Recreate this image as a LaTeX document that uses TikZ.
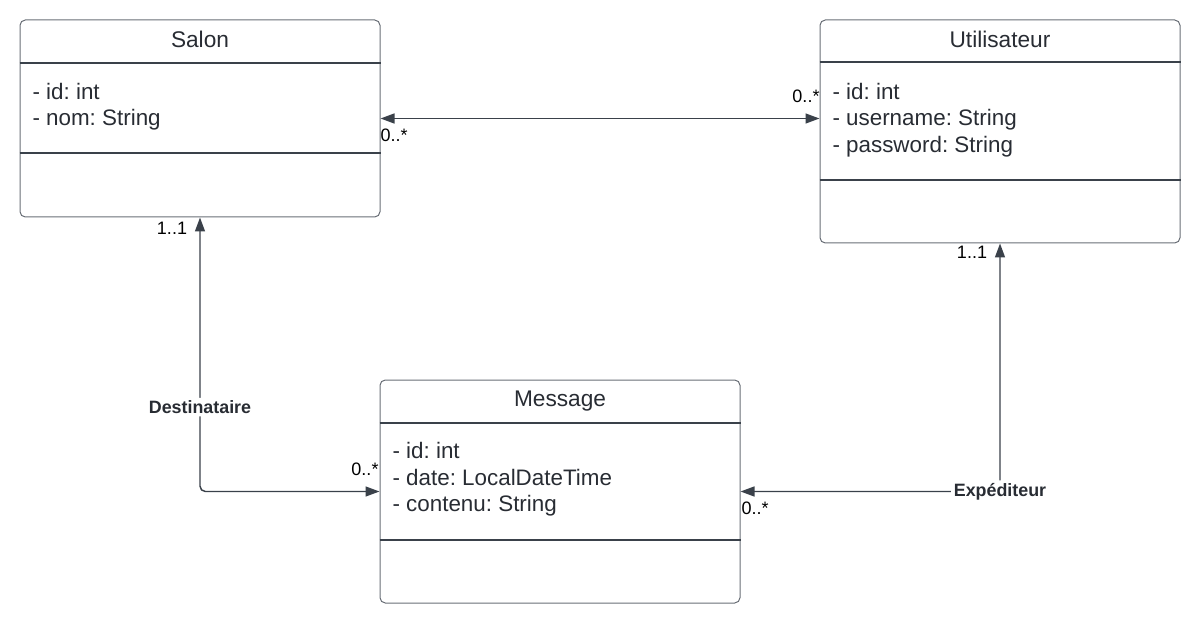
\documentclass[tikz,border=0pt]{standalone}
\usepackage{fontspec}
\setmainfont{Liberation Sans}
\usetikzlibrary{arrows.meta}
\frenchspacing

\definecolor{umltext}{RGB}{40,44,51}
\definecolor{umlline}{RGB}{58,65,74}
\definecolor{umlborder}{RGB}{105,110,118}

\tikzset{every picture/.style={line width=0.75pt}}
\tikzset{
  classbox/.style={draw=umlborder, rounded corners=4pt, minimum width=270pt, inner sep=0pt},
  divider/.style={draw=umlline, line width=0.8pt},
  classname/.style={anchor=base, text=umltext, font=\fontsize{17}{20}\selectfont},
  attr/.style={anchor=base west, inner sep=0pt, text=umltext, font=\fontsize{16.8}{20}\selectfont},
  assoc/.style={draw=umlline, line width=1.1pt, {Triangle[length=10.5pt,width=7.5pt]}-{Triangle[length=10.5pt,width=7.5pt]}},
  rolelabel/.style={fill=white, inner sep=2pt, text=umltext, font=\fontsize{13.4}{16}\selectfont\bfseries},
  mult/.style={inner sep=0pt, text=black, font=\fontsize{13.5}{16}\selectfont}
}

\begin{document}
\begin{tikzpicture}[x=0.75pt,y=0.75pt,yscale=-1,xscale=1]
	\path (0,0) rectangle (1200,624); %set diagram to 1200 x 624

	%Shape: Class Salon
	\node [classbox, minimum height=147.75pt] (salon) at (200,118.5) {};
	\draw [divider] (salon.west |- 0,63) -- (salon.east |- 0,63) ;
	\draw [divider] (salon.west |- 0,153) -- (salon.east |- 0,153) ;
	%Shape: Class Utilisateur
	\node [classbox, minimum height=167.25pt] (util) at (1000,131.5) {};
	\draw [divider] (util.west |- 0,62) -- (util.east |- 0,62) ;
	\draw [divider] (util.west |- 0,180) -- (util.east |- 0,180) ;
	%Shape: Class Message
	\node [classbox, minimum height=167.25pt] (msg) at (560,491.5) {};
	\draw [divider] (msg.west |- 0,423) -- (msg.east |- 0,423) ;
	\draw [divider] (msg.west |- 0,540) -- (msg.east |- 0,540) ;

	% Text Node
	\node [classname] (salon-name) at (200,47.5) {Salon};
	% Text Node
	\node [attr] (salon-id) at (32,99.5) {- id: int};
	\node [attr] (salon-nom) at (32,126) {- nom: String};
	% Text Node
	\node [classname] (util-name) at (1000,47.5) {Utilisateur};
	% Text Node
	\node [attr] (util-id) at (832,99.5) {- id: int};
	\node [attr] (util-username) at (832,126) {- username: String};
	\node [attr] (util-password) at (832,152.5) {- password: String};
	% Text Node
	\node [classname] (msg-name) at (560,406.5) {Message};
	% Text Node
	\node [attr] (msg-id) at (392,458.5) {- id: int};
	\node [attr] (msg-date) at (392,485) {- date: LocalDateTime};
	\node [attr] (msg-contenu) at (392,511.5) {- contenu: String};

	%Straight Lines: Salon -- Utilisateur
	\draw [assoc] (salon.east) -- (salon.east -| util.west) ;
	%Elbow: Message -- Salon
	\draw [assoc, rounded corners=4pt] (msg.west) -| node [rolelabel, pos=0.654] (dest) {Destinataire} (salon.south) ;
	%Elbow: Message -- Utilisateur
	\draw [assoc, rounded corners=4pt] (msg.east) -| node [rolelabel, pos=0.5] (exp) {Expéditeur} (util.south) ;

	% Text Node
	\node [mult, anchor=west] (m-salon-u) at (380,135) {0..*};
	% Text Node
	\node [mult, anchor=east] (m-util-s) at (820,96) {0..*};
	% Text Node
	\node [mult] (m-salon-m) at (172,228) {1..1};
	% Text Node
	\node [mult, anchor=east] (m-msg-s) at (379,469) {0..*};
	% Text Node
	\node [mult] (m-util-m) at (972,252) {1..1};
	% Text Node
	\node [mult, anchor=west] (m-msg-u) at (741,508) {0..*};

\end{tikzpicture}
\end{document}
